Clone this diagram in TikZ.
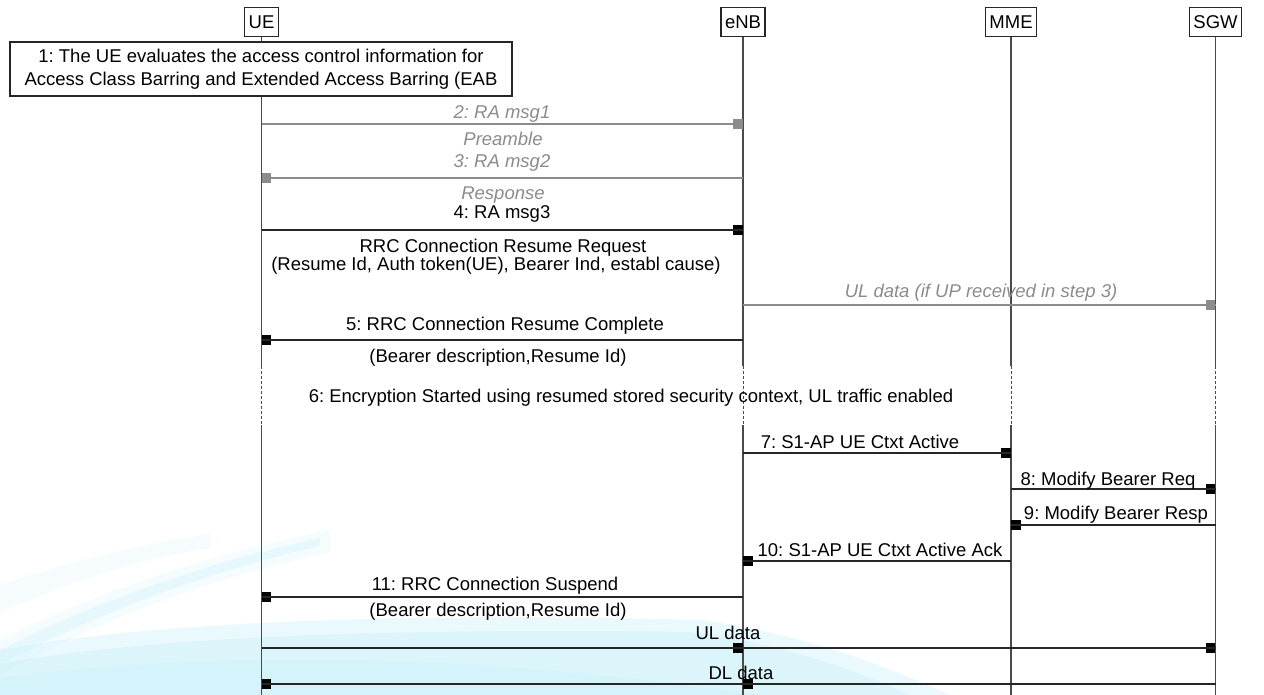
\documentclass[tikz,border=0pt]{standalone}
\usepackage{fontspec}
\setmainfont{Liberation Sans}
\frenchspacing
\definecolor{lifec}{HTML}{4A4A4A}
\definecolor{greyc}{HTML}{8C8C8C}
\definecolor{swoosh}{HTML}{C4F0FA}
\begin{document}
\begin{tikzpicture}[x=1pt,y=-1pt,
  font=\fontsize{18.5}{21}\selectfont,
  head/.style={draw=black!85,fill=white,line width=1.1pt,inner sep=4pt,minimum height=29pt},
  life/.style={draw=lifec,line width=1.8pt},
  lifedash/.style={draw=lifec,line width=1pt,dash pattern=on 3pt off 2pt},
  msg/.style={draw=black!85,line width=1.1pt},
  gmsg/.style={draw=greyc,line width=1.1pt},
  mk/.style={fill=black,inner sep=0pt,minimum size=9.5pt},
  gmk/.style={fill=greyc,inner sep=0pt,minimum size=9.5pt},
  lbl/.style={anchor=base,inner sep=0pt},
  glbl/.style={anchor=base,inner sep=0pt,text=greyc,font=\fontsize{18.5}{21}\selectfont\itshape}]
\useasboundingbox (0,0) rectangle (1264,695);
\fill[white] (0,0) rectangle (1264,695);
% background swoosh (soft layers)
\fill[swoosh,opacity=0.35] (0,695) -- (0,650) .. controls (150,622) and (400,612) .. (700,620) .. controls (810,635) and (890,668) .. (950,695) -- cycle;
\fill[swoosh,opacity=0.35] (0,695) -- (0,664) .. controls (150,636) and (400,628) .. (690,632) .. controls (790,645) and (860,672) .. (910,695) -- cycle;
\fill[swoosh,opacity=0.3] (0,695) -- (0,678) .. controls (200,652) and (450,650) .. (760,695) -- cycle;
\fill[swoosh,opacity=0.18] (0,640) .. controls (90,596) and (200,556) .. (330,530) -- (330,552) .. controls (200,580) and (90,625) .. (0,675) -- cycle;
\fill[swoosh,opacity=0.25] (0,650) .. controls (90,604) and (200,564) .. (320,538) -- (320,546) .. controls (200,573) and (90,618) .. (0,664) -- cycle;
\fill[swoosh,opacity=0.15] (0,585) .. controls (60,565) and (120,548) .. (210,534) -- (210,548) .. controls (120,562) and (60,588) .. (0,612) -- cycle;

% heads
\node[head] (ue) at (261.5,22) {UE};
\node[head] (enb) at (743,22) {eNB};
\node[head] (mme) at (1011,22) {MME};
\node[head] (sgw) at (1215.5,22) {SGW};

% lifelines
\foreach \n/\x in {ue/261.5,enb/743,mme/1011,sgw/1215.5}{
  \coordinate (\n-a) at (\x,366);
  \coordinate (\n-b) at (\x,425);
  \coordinate (\n-z) at (\x,695);
  \draw[life] (\n.south) -- (\n-a);
  \draw[lifedash] (\n-a) -- (\n-b);
  \draw[life] (\n-b) -- (\n-z);
}

% note 1
\node[draw=black!85,fill=white,line width=1.1pt,minimum width=502pt,minimum height=54pt,align=center,inner sep=2pt,font=\fontsize{18.5}{23}\selectfont] (n1) at (261,69)
  {1: The UE evaluates the access control information for\\Access Class Barring and Extended Access Barring (EAB};

% message 2
\coordinate (m2s) at (261.5,124);
\node[gmk,anchor=east] (m2e) at (743,124) {};
\draw[gmsg] (m2s) -- (m2e.east);
\node[glbl] (t2) at (502,119) {2: RA msg1};
\node[glbl] (t2b) at (503,146) {Preamble};

% message 3
\coordinate (m3s) at (743,178);
\node[gmk,anchor=west] (m3e) at (261.5,178) {};
\draw[gmsg] (m3s) -- (m3e.west);
\node[glbl] (t3) at (502,168) {3: RA msg2};
\node[glbl] (t3b) at (503,200) {Response};

% message 4
\coordinate (m4s) at (261.5,230);
\node[mk,anchor=east] (m4e) at (743,230) {};
\draw[msg] (m4s) -- (m4e.east);
\node[lbl] (t4) at (502,219) {4: RA msg3};
\node[lbl] (t4b) at (503,252) {RRC Connection Resume Request};
\node[lbl] (t4c) at (496,271) {(Resume Id, Auth token(UE), Bearer Ind, establ cause)};

% UL data (grey)
\coordinate (uls) at (743,305);
\node[gmk,anchor=east] (ule) at (1215.5,305) {};
\draw[gmsg] (uls) -- (ule.east);
\node[glbl] (tul) at (981,298) {UL data (if UP received in step 3)};

% message 5
\coordinate (m5s) at (743,340);
\node[mk,anchor=west] (m5e) at (261.5,340) {};
\draw[msg] (m5s) -- (m5e.west);
\node[lbl] (t5) at (505,330) {5: RRC Connection Resume Complete};
\node[lbl] (t5b) at (498,362) {(Bearer description,Resume Id)};

% step 6
\node[lbl] (t6) at (631,402) {6: Encryption Started using resumed stored security context, UL traffic enabled};

% message 7
\coordinate (m7s) at (743,453);
\node[mk,anchor=east] (m7e) at (1011,453) {};
\draw[msg] (m7s) -- (m7e.east);
\node[lbl] (t7) at (860,448) {7: S1-AP UE Ctxt Active};

% message 8
\coordinate (m8s) at (1011,489);
\node[mk,anchor=east] (m8e) at (1215.5,489) {};
\draw[msg] (m8s) -- (m8e.east);
\node[lbl] (t8) at (1108,485) {8: Modify Bearer Req};

% message 9
\coordinate (m9s) at (1215.5,525);
\node[mk,anchor=west] (m9e) at (1011,525) {};
\draw[msg] (m9s) -- (m9e.west);
\node[lbl] (t9) at (1116,519) {9: Modify Bearer Resp};

% message 10
\coordinate (m10s) at (1011,561);
\node[mk,anchor=west] (m10e) at (743,561) {};
\draw[msg] (m10s) -- (m10e.west);
\node[lbl] (t10) at (880,556) {10: S1-AP UE Ctxt Active Ack};

% message 11
\coordinate (m11s) at (743,597);
\node[mk,anchor=west] (m11e) at (261.5,597) {};
\draw[msg] (m11s) -- (m11e.west);
\node[lbl] (t11) at (495,590) {11: RRC Connection Suspend};
\node[lbl] (t11b) at (498,616) {(Bearer description,Resume Id)};

% UL data
\coordinate (ul2s) at (261.5,648);
\node[mk,anchor=east] (ul2m) at (743,648) {};
\node[mk,anchor=east] (ul2e) at (1215.5,648) {};
\draw[msg] (ul2s) -- (ul2m.east) -- (ul2e.east);
\node[lbl] (tul2) at (728,639) {UL data};

% DL data
\coordinate (dl2s) at (1215.5,684);
\node[mk,anchor=west] (dl2m) at (743,684) {};
\node[mk,anchor=west] (dl2e) at (261.5,684) {};
\draw[msg] (dl2s) -- (dl2m.west) -- (dl2e.west);
\node[lbl] (tdl2) at (741,679) {DL data};
\end{tikzpicture}
\end{document}
